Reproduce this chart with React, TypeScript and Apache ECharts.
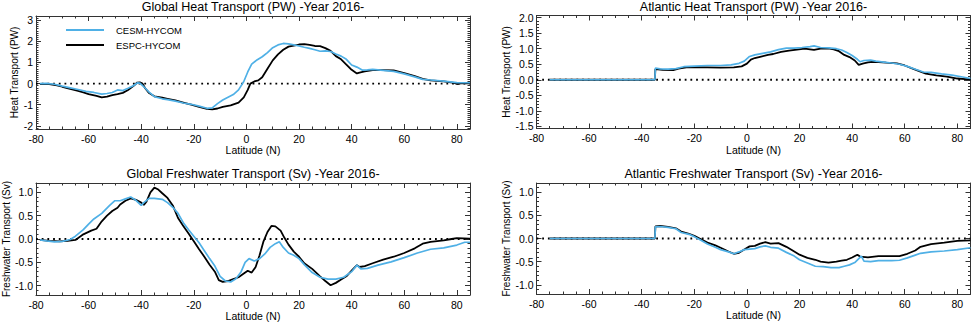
import React, { useEffect, useRef } from "react";
import * as echarts from "echarts";

type Pt = [number, number];

const SERIES_NAMES = ["CESM-HYCOM", "ESPC-HYCOM"];
const COLOR_CESM = "#4fb0e6";
const COLOR_ESPC = "#000000";

const titles = [
  "Global Heat Transport (PW) -Year 2016-",
  "Atlantic Heat Transport (PW) -Year 2016-",
  "Global Freshwater Transport (Sv) -Year 2016-",
  "Atlantic Freshwater Transport (Sv) -Year 2016-",
];
const yNames = [
  "Heat Transport (PW)",
  "Heat Transport (PW)",
  "Freshwater Transport (Sv)",
  "Freshwater Transport (Sv)",
];
const xName = "Latitude (N)";

const xTicks = [-80, -60, -40, -20, 0, 20, 40, 60, 80];
const yTicksGH = [-2, -1, 0, 1, 2, 3];
const yTicksAH = [-1.5, -1.0, -0.5, 0.0, 0.5, 1.0, 1.5, 2.0];
const yTicksFW = [-1.0, -0.5, 0.0, 0.5, 1.0];

// Global heat transport (PW)
const globalHeatESPC: Pt[] = [
  [-78.5, -0.02], [-75, -0.03], [-72, -0.08], [-70, -0.15], [-67, -0.25], [-64, -0.34], [-62, -0.42],
  [-60, -0.5], [-57, -0.58], [-55, -0.65], [-53, -0.62], [-51, -0.55], [-49, -0.5], [-47, -0.44],
  [-45, -0.3], [-43, -0.12], [-41.5, 0.05], [-40.5, 0.06], [-39.5, 0], [-38.5, -0.22], [-37, -0.45],
  [-35, -0.6], [-32, -0.67], [-30, -0.72], [-27, -0.8], [-24, -0.9], [-21, -1.0], [-18, -1.1],
  [-15, -1.2], [-13, -1.22], [-11, -1.18], [-9, -1.1], [-6, -1.03], [-3, -0.9], [-1, -0.65],
  [0.5, -0.3], [1.5, 0], [3, 0.1], [4.5, 0.15], [6, 0.3], [8, 0.7], [10, 1.1], [12, 1.38],
  [14, 1.6], [16, 1.75], [18, 1.8], [20, 1.85], [22, 1.87], [24, 1.83], [26, 1.78], [28, 1.77],
  [30, 1.68], [32, 1.55], [34, 1.3], [36, 1.15], [38, 0.9], [40, 0.65], [42, 0.48], [43, 0.52],
  [45, 0.58], [48, 0.64], [52, 0.64], [56, 0.62], [60, 0.5], [64, 0.35], [67, 0.22], [70, 0.15],
  [75, 0.1], [79, 0.03], [80, -0.02], [82, 0.02], [85, 0.01],
];
const globalHeatCESM: Pt[] = [
  [-78.5, 0.0], [-76, 0.01], [-73, -0.03], [-70, -0.12], [-67, -0.2], [-64, -0.28], [-61, -0.37],
  [-58, -0.42], [-55, -0.5], [-53, -0.47], [-51, -0.42], [-49, -0.3], [-47, -0.33], [-45, -0.22],
  [-43, -0.1], [-41.5, 0.03], [-40.5, 0.02], [-39, -0.15], [-37, -0.4], [-35, -0.62], [-32, -0.72],
  [-30, -0.76], [-27, -0.83], [-24, -0.92], [-21, -0.98], [-18, -1.07], [-15, -1.17], [-13, -1.15],
  [-11, -0.95], [-9, -0.78], [-7, -0.65], [-5, -0.52], [-3, -0.3], [-1, 0.1], [0.5, 0.55],
  [2, 0.92], [4, 1.12], [6, 1.27], [8, 1.47], [10, 1.7], [12, 1.83], [14, 1.9], [16, 1.88],
  [18, 1.83], [20, 1.78], [22, 1.72], [24, 1.67], [26, 1.6], [28, 1.53], [30, 1.55], [32, 1.52],
  [34, 1.4], [36, 1.3], [38, 1.15], [40, 0.88], [42, 0.78], [44, 0.64], [46, 0.65], [48, 0.67],
  [52, 0.63], [56, 0.58], [60, 0.46], [64, 0.32], [67, 0.2], [70, 0.17], [75, 0.12], [80, 0.05],
  [85, 0.04],
];

// Atlantic heat transport (PW)
const atlHeatESPC: Pt[] = [
  [-75, 0], [-35, 0], [-34.8, 0.34], [-32, 0.32], [-28, 0.31], [-26, 0.36], [-23, 0.4], [-20, 0.41],
  [-15, 0.4], [-10, 0.39], [-5, 0.4], [-2, 0.43], [0, 0.52], [1.5, 0.65], [3, 0.7], [5, 0.74],
  [8, 0.8], [10, 0.83], [13, 0.9], [16, 0.94], [19, 0.97], [22, 1.0], [24, 0.98], [25.5, 0.96],
  [28, 1.0], [31, 1.01], [33, 0.98], [35, 0.92], [37, 0.8], [39, 0.73], [41, 0.62], [42.5, 0.48],
  [44, 0.52], [46, 0.56], [48, 0.58], [50, 0.57], [53, 0.55], [57, 0.53], [60, 0.46], [63, 0.36],
  [66, 0.26], [68, 0.2], [72, 0.14], [76, 0.1], [80, 0.04], [83, 0.02], [85, 0.02],
];
const atlHeatCESM: Pt[] = [
  [-75, 0], [-35, 0], [-34.8, 0.38], [-33, 0.35], [-30, 0.34], [-27, 0.36], [-24, 0.42], [-20, 0.44],
  [-15, 0.46], [-10, 0.46], [-6, 0.48], [-3, 0.53], [-1, 0.6], [1, 0.75], [3, 0.8], [6, 0.85],
  [9, 0.9], [12, 0.97], [15, 1.02], [18, 1.02], [21, 1.04], [24, 1.07], [25.5, 1.09], [28, 1.04],
  [31, 1.03], [34, 1.0], [36, 0.96], [38, 0.88], [40, 0.78], [42, 0.66], [43, 0.58], [44.5, 0.62],
  [47, 0.63], [49, 0.6], [52, 0.57], [55, 0.54], [58, 0.5], [61, 0.43], [64, 0.34], [66, 0.28],
  [67, 0.25], [70, 0.24], [74, 0.19], [78, 0.15], [82, 0.09], [85, 0.04],
];

// Global freshwater transport (Sv)
const globalFwESPC: Pt[] = [
  [-78.5, -0.02], [-75, -0.04], [-71, -0.05], [-68, -0.04], [-65, -0.02], [-62, 0.1], [-59, 0.18],
  [-57, 0.22], [-55, 0.38], [-53, 0.5], [-51, 0.6], [-49, 0.67], [-48, 0.74], [-46, 0.82],
  [-44, 0.87], [-42, 0.84], [-40, 0.78], [-39, 0.73], [-38, 0.8], [-36.5, 1.0], [-35, 1.1],
  [-33.5, 1.06], [-32, 0.98], [-30, 0.88], [-28, 0.72], [-26, 0.45], [-24, 0.28], [-22, 0.12],
  [-20, -0.05], [-18, -0.22], [-16, -0.38], [-14, -0.55], [-12, -0.7], [-10.5, -0.88], [-9, -0.92],
  [-7, -0.9], [-5, -0.86], [-3, -0.82], [-1, -0.74], [0.5, -0.68], [2, -0.72], [3.5, -0.6],
  [5, -0.35], [6.5, -0.05], [8, 0.15], [9.5, 0.28], [11, 0.27], [13, 0.18], [14.5, 0.02],
  [16, -0.12], [18, -0.27], [20, -0.38], [22, -0.52], [25, -0.64], [28, -0.8], [30, -0.9],
  [32, -0.99], [34, -0.94], [36, -0.87], [38, -0.8], [40, -0.68], [42, -0.56], [43, -0.6],
  [45, -0.58], [48, -0.52], [52, -0.44], [56, -0.38], [60, -0.3], [64, -0.2], [67, -0.1],
  [70, -0.06], [75, -0.03], [78, 0.0], [80, 0.02], [85, 0.01],
];
const globalFwCESM: Pt[] = [
  [-78.5, -0.02], [-76, -0.04], [-73, -0.06], [-70, -0.05], [-67, -0.01], [-65, 0.06], [-62, 0.2],
  [-60, 0.32], [-58, 0.43], [-55, 0.55], [-52, 0.72], [-50, 0.82], [-48, 0.82], [-46, 0.86],
  [-44, 0.9], [-42, 0.83], [-40, 0.72], [-39, 0.78], [-37, 0.87], [-35, 0.87], [-32, 0.85],
  [-30, 0.78], [-28, 0.68], [-26, 0.55], [-24, 0.35], [-22, 0.2], [-20, 0.06], [-18, -0.08],
  [-16, -0.25], [-14, -0.42], [-12, -0.58], [-10, -0.8], [-8, -0.9], [-6, -0.92], [-4, -0.85],
  [-2, -0.7], [-0.5, -0.5], [1, -0.42], [3, -0.47], [5, -0.42], [7, -0.32], [9, -0.18],
  [11, -0.1], [12.5, -0.06], [14, -0.18], [16, -0.3], [18, -0.35], [20, -0.42], [22, -0.55],
  [25, -0.72], [28, -0.82], [31, -0.86], [34, -0.86], [37, -0.82], [40, -0.7], [42, -0.56],
  [43.5, -0.64], [46, -0.63], [50, -0.56], [55, -0.49], [60, -0.4], [65, -0.3], [70, -0.22],
  [75, -0.19], [80, -0.13], [83, -0.07], [85, -0.07],
];

// Atlantic freshwater transport (Sv)
const atlFwESPC: Pt[] = [
  [-75, 0], [-35, 0], [-34.8, 0.26], [-33, 0.27], [-30, 0.25], [-27, 0.22], [-25, 0.15], [-22, 0.1],
  [-20, 0.06], [-18, 0.0], [-15, -0.09], [-12, -0.15], [-10, -0.2], [-7, -0.28], [-5, -0.33],
  [-3, -0.31], [-1, -0.24], [1, -0.17], [3, -0.16], [5, -0.11], [7, -0.08], [9, -0.11], [12, -0.1],
  [15, -0.18], [18, -0.28], [20, -0.35], [23, -0.42], [26, -0.46], [28, -0.5], [31, -0.52],
  [34, -0.5], [36, -0.48], [38, -0.46], [40, -0.41], [42, -0.35], [43, -0.39], [46, -0.41],
  [50, -0.38], [55, -0.38], [58, -0.38], [61, -0.33], [64, -0.26], [66, -0.18], [70, -0.12],
  [75, -0.09], [80, -0.05], [85, -0.04],
];
const atlFwCESM: Pt[] = [
  [-75, 0], [-35, 0], [-34.8, 0.25], [-33, 0.26], [-30, 0.24], [-27, 0.21], [-25, 0.13], [-22, 0.09],
  [-20, 0.04], [-18, -0.02], [-15, -0.12], [-12, -0.19], [-10, -0.24], [-7, -0.29], [-5, -0.33],
  [-3, -0.29], [-1, -0.24], [1, -0.23], [3, -0.22], [5, -0.18], [7, -0.16], [9, -0.19], [12, -0.21],
  [15, -0.3], [18, -0.38], [20, -0.46], [23, -0.53], [26, -0.6], [29, -0.61], [32, -0.63],
  [35, -0.63], [37, -0.6], [39, -0.57], [41, -0.52], [43.5, -0.38], [44.5, -0.49], [47, -0.5],
  [50, -0.48], [55, -0.48], [58, -0.47], [61, -0.42], [64, -0.36], [66, -0.32], [70, -0.29],
  [75, -0.27], [80, -0.24], [85, -0.2],
];

const FONT = "'Liberation Sans', Arial, Helvetica, sans-serif";
const AXIS_COLOR = "#333";
const LEGEND_ICON = "path://M0,0H38V2H0Z";

function minorValues(min: number, max: number, step: number): number[] {
  const out: number[] = [];
  const start = Math.ceil(min / step - 1e-9);
  const end = Math.floor(max / step + 1e-9);
  for (let i = start; i <= end; i++) out.push(Math.round(i * step * 1000) / 1000);
  return out;
}

interface PanelCfg {
  grid: { left: number; top: number; width: number; height: number };
  yMin: number;
  yMax: number;
  yTicks: number[];
  yDecimals: number;
  yNameGap: number;
  title: string;
  yName: string;
  espc: Pt[];
  cesm: Pt[];
}

export default function App() {
  const ref = useRef<HTMLDivElement>(null);

  useEffect(() => {
    if (!ref.current) return;
    const chart = echarts.init(ref.current, undefined, { renderer: "svg" });

    const panels: PanelCfg[] = [
      { grid: { left: 36, top: 16, width: 434, height: 113 }, yMin: -2.15, yMax: 3.2, yTicks: yTicksGH, yDecimals: 0, yNameGap: 15, title: titles[0], yName: yNames[0], espc: globalHeatESPC, cesm: globalHeatCESM },
      { grid: { left: 536.5, top: 15.5, width: 434, height: 113 }, yMin: -1.57, yMax: 2.07, yTicks: yTicksAH, yDecimals: 1, yNameGap: 25, title: titles[1], yName: yNames[1], espc: atlHeatESPC, cesm: atlHeatCESM },
      { grid: { left: 36, top: 183, width: 434, height: 112 }, yMin: -1.2, yMax: 1.2, yTicks: yTicksFW, yDecimals: 1, yNameGap: 24, title: titles[2], yName: yNames[2], espc: globalFwESPC, cesm: globalFwCESM },
      { grid: { left: 536.5, top: 183, width: 434, height: 111 }, yMin: -1.2, yMax: 1.2, yTicks: yTicksFW, yDecimals: 1, yNameGap: 25, title: titles[3], yName: yNames[3], espc: atlFwESPC, cesm: atlFwCESM },
    ];

    const xMin = -80;
    const xMax = 85;
    const xMinor = minorValues(xMin, xMax, 5);

    const grids: any[] = [];
    const xAxes: any[] = [];
    const yAxes: any[] = [];
    const series: any[] = [];
    const titleOpts: any[] = [];

    const lineStyle = { color: AXIS_COLOR, width: 1 };

    panels.forEach((p, gi) => {
      grids.push({ ...p.grid, containLabel: false });
      const cx = p.grid.left + p.grid.width / 2;
      titleOpts.push({
        text: p.title,
        left: cx,
        top: gi < 2 ? 0 : 167,
        textAlign: "center",
        padding: 0,
        textStyle: { fontSize: 12.5, fontWeight: "normal", color: "#000", fontFamily: FONT },
      });

      const xMainIndex = xAxes.length;
      const baseX = { gridIndex: gi, type: "value", min: xMin, max: xMax, splitLine: { show: false } };
      xAxes.push({
        ...baseX,
        position: "bottom",
        axisLine: { show: true, onZero: false, lineStyle },
        axisTick: { show: true, inside: true, length: 5, customValues: xTicks, lineStyle },
        axisLabel: { show: true, customValues: xTicks, margin: 4, fontSize: 10.5, color: "#000", fontFamily: FONT },
        name: xName,
        nameLocation: "middle",
        nameGap: 14.5,
        nameTextStyle: { fontSize: 10.5, color: "#000", fontFamily: FONT },
      });
      xAxes.push({
        ...baseX,
        position: "bottom",
        axisLine: { show: false, onZero: false },
        axisTick: { show: true, inside: true, length: 2.5, customValues: xMinor, lineStyle },
        axisLabel: { show: false },
      });
      xAxes.push({
        ...baseX,
        position: "top",
        axisLine: { show: true, onZero: false, lineStyle },
        axisTick: { show: true, inside: true, length: 5, customValues: xTicks, lineStyle },
        axisLabel: { show: false },
      });
      xAxes.push({
        ...baseX,
        position: "top",
        axisLine: { show: false, onZero: false },
        axisTick: { show: true, inside: true, length: 2.5, customValues: xMinor, lineStyle },
        axisLabel: { show: false },
      });

      const yMinor = minorValues(p.yMin, p.yMax, 0.1);
      const yMainIndex = yAxes.length;
      const baseY = { gridIndex: gi, type: "value", min: p.yMin, max: p.yMax, splitLine: { show: false } };
      yAxes.push({
        ...baseY,
        position: "left",
        axisLine: { show: true, onZero: false, lineStyle },
        axisTick: { show: true, inside: true, length: 5, customValues: p.yTicks, lineStyle },
        axisLabel: {
          show: true,
          customValues: p.yTicks,
          margin: 3,
          fontSize: 10.5,
          color: "#000",
          fontFamily: FONT,
          formatter: (v: number) => v.toFixed(p.yDecimals),
        },
        name: p.yName,
        nameLocation: "middle",
        nameGap: p.yNameGap,
        nameTextStyle: { fontSize: 10, color: "#000", fontFamily: FONT },
      });
      yAxes.push({
        ...baseY,
        position: "left",
        axisLine: { show: false, onZero: false },
        axisTick: { show: true, inside: true, length: 2.5, customValues: yMinor, lineStyle },
        axisLabel: { show: false },
      });
      yAxes.push({
        ...baseY,
        position: "right",
        axisLine: { show: true, onZero: false, lineStyle },
        axisTick: { show: true, inside: true, length: 5, customValues: p.yTicks, lineStyle },
        axisLabel: { show: false },
      });
      yAxes.push({
        ...baseY,
        position: "right",
        axisLine: { show: false, onZero: false },
        axisTick: { show: true, inside: true, length: 2.5, customValues: yMinor, lineStyle },
        axisLabel: { show: false },
      });

      series.push({
        type: "line",
        name: "zero",
        xAxisIndex: xMainIndex,
        yAxisIndex: yMainIndex,
        data: [[xMin, 0], [xMax, 0]],
        symbol: "none",
        silent: true,
        lineStyle: { color: "#000", width: 1.8, type: [1.8, 3.9] },
        z: 1,
      });
      series.push({
        type: "line",
        name: SERIES_NAMES[1],
        xAxisIndex: xMainIndex,
        yAxisIndex: yMainIndex,
        data: p.espc,
        symbol: "none",
        lineStyle: { color: COLOR_ESPC, width: 1.8 },
        itemStyle: { color: COLOR_ESPC },
        z: 2,
      });
      series.push({
        type: "line",
        name: SERIES_NAMES[0],
        xAxisIndex: xMainIndex,
        yAxisIndex: yMainIndex,
        data: p.cesm,
        symbol: "none",
        lineStyle: { color: COLOR_CESM, width: 1.7 },
        itemStyle: { color: COLOR_CESM },
        z: 3,
      });
    });

    chart.setOption({
      animation: false,
      backgroundColor: "#fff",
      title: titleOpts,
      legend: {
        data: SERIES_NAMES.map((n) => ({ name: n, icon: LEGEND_ICON })),
        orient: "vertical",
        left: 66,
        top: 25,
        padding: 0,
        itemWidth: 38,
        itemHeight: 14,
        itemGap: 5,
        symbolKeepAspect: true,
        selectedMode: false,
        textStyle: { fontSize: 9.5, color: "#000", fontFamily: FONT, padding: [0, 0, 0, 7] },
      },
      grid: grids,
      xAxis: xAxes,
      yAxis: yAxes,
      series,
    });

    return () => chart.dispose();
  }, []);

  return (
    <div
      ref={ref}
      style={{ position: "absolute", left: 0, top: 0, width: 972, height: 324, background: "#fff" }}
    />
  );
}
